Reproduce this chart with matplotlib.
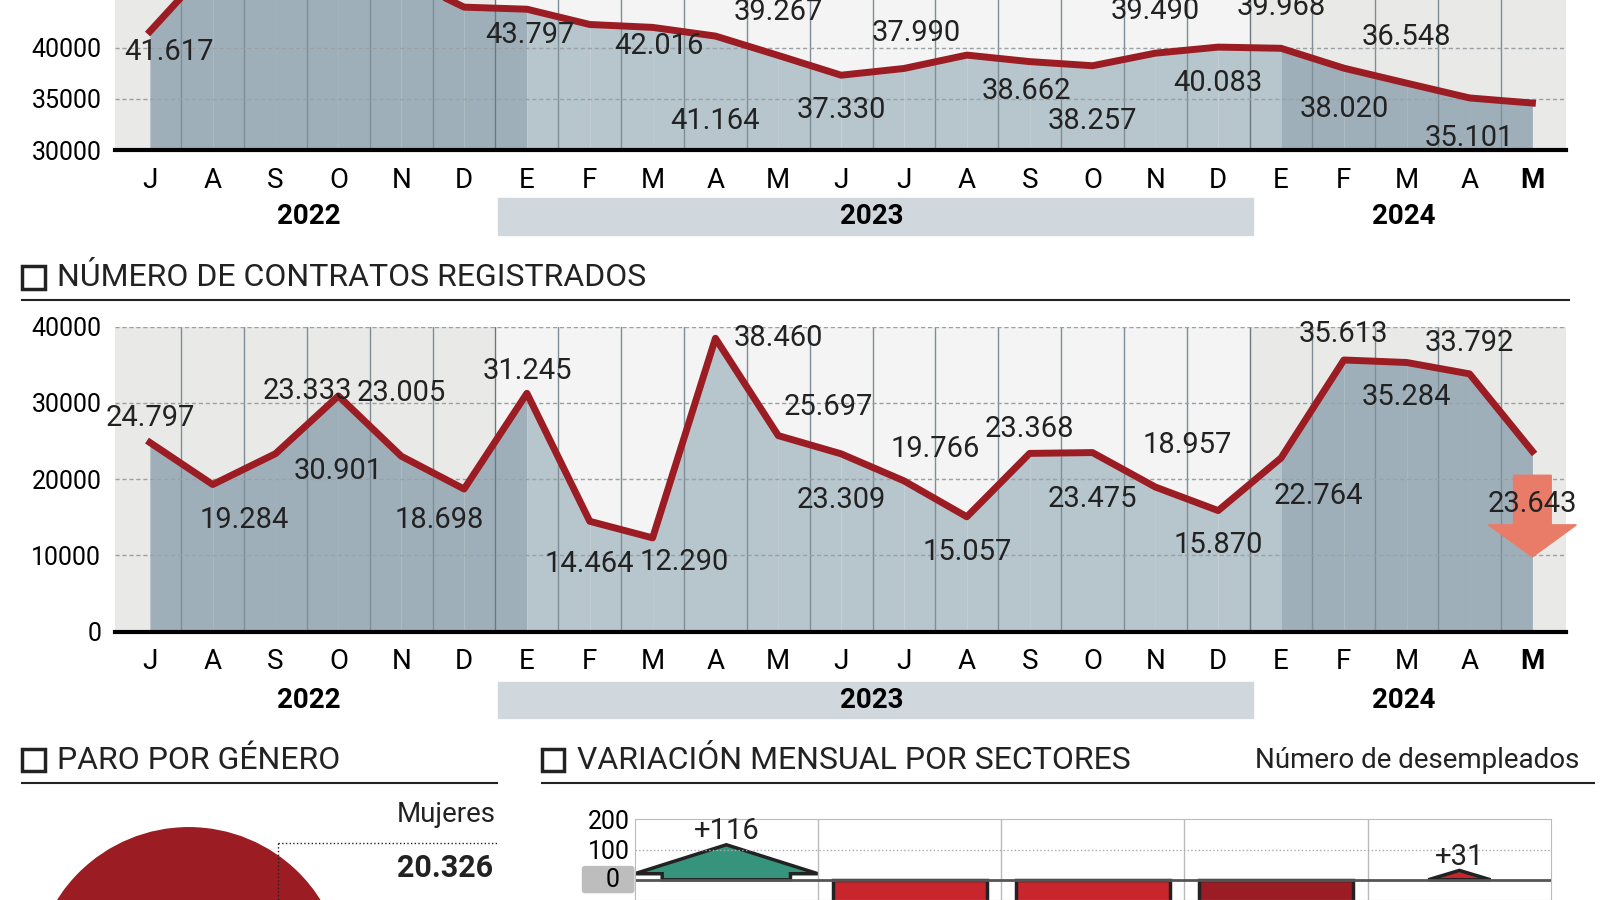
import numpy as np
import matplotlib.pyplot as plt
from matplotlib.patches import Rectangle, Polygon, Circle, FancyBboxPatch

plt.rcParams["font.family"] = ["Liberation Sans Narrow", "Roboto", "DejaVu Sans"]

W, H = 1568.0, 882.0
RED = "#9b1c23"

months = ["J", "A", "S", "O", "N", "D", "E", "F", "M", "A", "M", "J", "J", "A",
          "S", "O", "N", "D", "E", "F", "M", "A", "M"]
paro = [41617, 48336, 49500, 46857, 47000, 44000, 43797, 42300, 42016, 41164,
        39267, 37330, 37990, 39300, 38662, 38257, 39490, 40083, 39968, 38020,
        36548, 35101, 34600]
paro_labels = ["41.617", "48.336", None, "46.857", None, None, "43.797", None, "42.016",
               "41.164", "39.267", "37.330", "37.990", None, "38.662", "38.257", "39.490",
               "40.083", "39.968", "38.020", "36.548", "35.101", None]
contratos = [24797, 19284, 23333, 30901, 23005, 18698, 31245, 14464, 12290, 38460,
             25697, 23309, 19766, 15057, 23368, 23475, 18957, 15870, 22764, 35613,
             35284, 33792, 23643]
sectores = [116, -150, -160, -200, 31]
sector_labels = ["+116", "", "", "", "+31"]
mujeres = 20326


def fax(left, top, right, bottom):
    return fig.add_axes([left / W, 1 - bottom / H, (right - left) / W, (bottom - top) / H])


def line_panel(ax, vals, ylo, yhi, ticks, labels, offsets):
    x = np.arange(len(vals))
    ax.set_xlim(-0.55, 22.54)
    ax.set_ylim(ylo, yhi)
    ax.set_facecolor("#e9eae8")
    ax.axvspan(5.5, 17.5, color="#f3f4f3", zorder=0)
    for i in range(len(vals) - 1):
        c = "#b7c5cd" if 6 <= i < 18 else "#9fafba"
        ax.fill_between(x[i:i + 2], ylo, vals[i:i + 2], color=c, lw=0, zorder=1)
    for xv in np.arange(0.5, 22, 1):
        ax.axvline(xv, color="#7f8d96" if xv not in (5.5, 17.5) else "#6c7880", lw=1, zorder=2)
    for t in ticks[1:]:
        ax.axhline(t, color="#9aa0a3", lw=1, ls=(0, (3, 2)), zorder=2)
    ax.plot(x, vals, color=RED, lw=5, zorder=4, solid_joinstyle="round", clip_on=True)
    for i, (v, lab) in enumerate(zip(vals, labels)):
        if lab:
            ax.text(i + offsets[i][0], v + offsets[i][1], lab, ha="center", va="center",
                    fontsize=21, color="#222", zorder=5, clip_on=True)
    ax.set_yticks(ticks)
    ax.set_yticklabels([str(t) for t in ticks], fontsize=18)
    ax.tick_params(length=0, pad=10)
    ax.set_xticks(x)
    ax.set_xticklabels(months, fontsize=20)
    ax.get_xticklabels()[-1].set_fontweight("bold")
    ax.tick_params(axis="x", pad=12)
    for s in ["top", "left", "right"]:
        ax.spines[s].set_visible(False)
    ax.spines["bottom"].set_linewidth(3)


def years(ybase):
    fig.patches.append(Rectangle((488 / W, 1 - (ybase + 18) / H), 740 / W, 36 / H,
                                 transform=fig.transFigure, color="#d0d8de", zorder=0))
    for xp, t in [(303, "2022"), (854, "2023"), (1376, "2024")]:
        fig.text(xp / W, 1 - ybase / H, t, ha="center", va="center", fontsize=20, weight="bold")


def title(x, y, x2, txt):
    fig.patches.append(Rectangle(((x) / W, 1 - (y + 11) / H), 22 / W, 22 / H, transform=fig.transFigure,
                                 fill=False, lw=2.5, ec="#222"))
    fig.text((x + 34) / W, 1 - y / H, txt, va="center", fontsize=23, color="#222")
    fig.add_artist(plt.Line2D([x / W, x2 / W], [1 - (y + 22) / H] * 2, color="#222", lw=1.5))


fig = plt.figure(figsize=(16, 9), dpi=100)

# top panel: paro registrado (cropped at top)
ax1 = fax(113, 0, 1535, 147)
off1 = [(0.3, -2000), (0.3, 1500), (0, 0), (0, -1000), (0, 0), (0, 0), (0.05, -2500), (0, 0),
        (0.1, -1800), (0, -8300), (0, 4300), (0, -3400), (0.2, 3500), (0, 0), (-0.05, -2900),
        (0, -5400), (0, 4100), (0, -3500), (0, 4000), (0, -4000), (0, 4500), (0, -3900), (0, 0)]
line_panel(ax1, paro, 30000, 44700, [30000, 35000, 40000], paro_labels, off1)
years(212)

# middle panel: contratos
title(22, 272, 1538, "NÚMERO DE CONTRATOS REGISTRADOS")
ax2 = fax(113, 320, 1535, 619)
cont_labels = [f"{v/1000:.3f}" for v in contratos]
line_panel(ax2, contratos, 0, 40000, [0, 10000, 20000, 30000, 40000], [None] * 23,
           [(0, 0)] * 23)
lab_pos = [(0, 28000), (1, 14700), (2, 31600), (3, 21000), (4, 31300), (5, 14700), (6, 34200),
           (7, 8900), (8, 9100), (9, 38500), (10, 29500), (11, 17300), (12, 24000), (13, 10400),
           (14, 26600), (15, 17400), (16, 24500), (17, 11400), (18, 17800), (19, 39000),
           (20, 30800), (21, 37900), (22, 16700)]
lab_x = [0, 1.5, 2.5, 3, 4, 4.6, 6, 7, 8.5, 10, 10.8, 11, 12.5, 13, 14, 15, 16.5, 17,
         18.6, 19, 20, 21, 22]
for xi, (i, y) in zip(lab_x, lab_pos):
    ax2.text(xi, y, cont_labels[i], ha="center", va="center", fontsize=21, color="#222", zorder=6)
ax2.add_patch(Polygon([[21.7, 20500], [22.3, 20500], [22.3, 14000], [22.7, 14000], [22, 9800],
                       [21.3, 14000], [21.7, 14000]], closed=True, color="#e87c68", zorder=3,
                      clip_on=False))
years(686)

# bottom left: paro por genero (pie, cropped)
title(22, 745, 487, "PARO POR GÉNERO")
pie_ax = fig.add_axes([20 / W, 1 - 1128 / H, 330 / W, 330 / H])
pie_ax.set_xlim(-1, 1)
pie_ax.set_ylim(-1, 1)
pie_ax.set_aspect("equal")
pie_ax.add_patch(Circle((0, 0), 0.92, color=RED))
pie_ax.axis("off")
fig.text(486 / W, 1 - 798 / H, "Mujeres", ha="right", va="center", fontsize=20, color="#222")
fig.text(483 / W, 1 - 851 / H, f"{mujeres/1000:.3f}", ha="right", va="center", fontsize=22,
         weight="bold", color="#222")
fig.add_artist(plt.Line2D([272 / W, 487 / W], [1 - 826 / H] * 2, color="#222", lw=1, ls=":"))
fig.add_artist(plt.Line2D([272 / W, 272 / W], [1 - 826 / H, 0], color="#222", lw=1, ls=":"))

# bottom right: variacion mensual por sectores
title(531, 745, 1562, "VARIACIÓN MENSUAL POR SECTORES")
fig.text(1548 / W, 1 - 745 / H, "Número de desempleados", ha="right", va="center", fontsize=20,
         color="#222")
ax3 = fax(622, 803, 1520, 882)
ax3.set_xlim(0, 5)
ax3.set_ylim(-67, 200)
for xv in range(1, 5):
    ax3.axvline(xv, color="#bbb", lw=1)
ax3.axhline(100, color="#aaa", lw=1, ls=":")
for i, v in enumerate(sectores):
    if v > 0:
        if v > 60:
            pts = [[i, 20], [i + 0.5, v], [i + 1, 20], [i + 0.85, 20], [i + 0.85, 0], [i + 0.15, 0],
                   [i + 0.15, 20]]
        else:
            pts = [[i + 0.33, 0], [i + 0.5, v], [i + 0.67, 0]]
        ax3.add_patch(Polygon(pts, closed=True, fc="#36947c" if i == 0 else "#c8262c", ec="#222", lw=2.5))
        ax3.text(i + 0.5, v + 45, sector_labels[i], ha="center", va="center", fontsize=21, color="#222")
    else:
        ax3.add_patch(Polygon([[i + 0.08, 0], [i + 0.92, 0], [i + 0.92, v], [i + 0.08, v]],
                              closed=True, fc="#c8262c" if i < 3 else RED, ec="#222", lw=2.5))
ax3.axhline(0, color="#555", lw=2)
ax3.set_yticks([100, 200])
ax3.set_yticklabels(["100", "200"], fontsize=18)
ax3.tick_params(length=0)
ax3.set_xticks([])
for s in ax3.spines.values():
    s.set_color("#bbb")
fig.patches.append(FancyBboxPatch((574 / W, 1 - 873 / H), 44 / W, 22 / H, transform=fig.transFigure,
                                  boxstyle="round,pad=0.002", color="#bdbdbd"))
fig.text(600 / W, 1 - 862 / H, "0", ha="center", va="center", fontsize=18)

fig.savefig("out.png", dpi=100)
